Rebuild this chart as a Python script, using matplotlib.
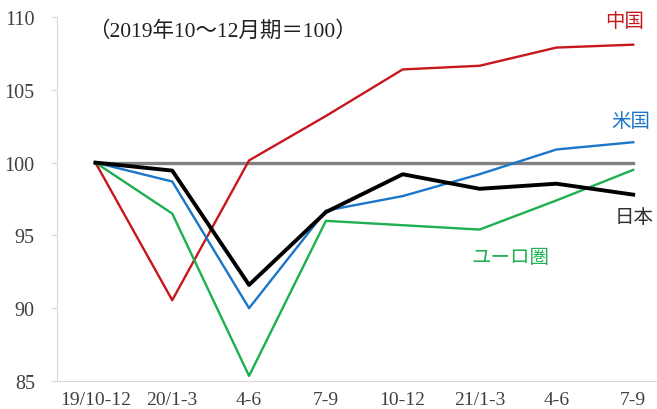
"""Real GDP index by region, 2019 Q4 = 100."""

import matplotlib

matplotlib.use("Agg")
import matplotlib.pyplot as plt

plt.rcParams["font.family"] = ["Liberation Serif", "Noto Sans CJK JP", "DejaVu Sans"]

quarters = ["19/10-12", "20/1-3", "4-6", "7-9", "10-12", "21/1-3", "4-6", "7-9"]
japan = [100.0, 99.45, 91.6, 96.6, 99.2, 98.2, 98.55, 97.8]
us = [100.0, 98.7, 90.0, 96.7, 97.7, 99.2, 100.9, 101.4]
euro = [100.0, 96.5, 85.35, 96.0, 95.7, 95.4, 97.4, 99.5]
china = [100.0, 90.55, 100.15, 103.2, 106.4, 106.65, 107.9, 108.1]
baseline = [100.0] * len(quarters)

C_CHINA = "#C8161D"
C_US = "#1B75C9"
C_EURO = "#1DAF50"
C_JAPAN = "#000000"
C_BASE = "#808080"

fig = plt.figure(figsize=(6.57, 4.10), dpi=100)
ax = fig.add_axes([57 / 657, 1 - 382 / 410, 1 - 57 / 657, (382 - 18) / 410])

x = list(range(len(quarters)))
ax.plot(x, baseline, color=C_BASE, lw=2.4, zorder=2)
ax.plot(x, china, color=C_CHINA, lw=1.7, zorder=3)
ax.plot(x, us, color=C_US, lw=1.7, zorder=3)
ax.plot(x, euro, color=C_EURO, lw=1.7, zorder=3)
ax.plot(x, japan, color=C_JAPAN, lw=2.8, zorder=4)

ax.set_xlim(-0.5, 7.31)
ax.set_ylim(85, 110)
ax.set_yticks([85, 90, 95, 100, 105, 110])
ax.set_xticks(x)
ax.set_xticklabels(quarters)

for side in ("top", "right"):
    ax.spines[side].set_visible(False)
for side in ("left", "bottom"):
    ax.spines[side].set_color("#D9D9D9")
    ax.spines[side].set_linewidth(0.8)

ax.tick_params(axis="y", length=4, color="#D9D9D9", labelsize=14.5,
               labelcolor="#404040", pad=12)
ax.tick_params(axis="x", length=0, labelsize=14, labelcolor="#404040", pad=7)

ax.text(-0.1, 109.1, "（2019年10～12月期＝100）", fontsize=15.5, color="#202020",
        va="center", ha="left")

ax.text(6.63, 109.7, "中国", color=C_CHINA, fontsize=14, va="center", ha="left")
ax.text(6.72, 102.85, "米国", color=C_US, fontsize=14, va="center", ha="left")
ax.text(6.76, 96.25, "日本", color="#303030", fontsize=14, va="center", ha="left")
ax.text(4.9, 93.5, "ユーロ圏", color=C_EURO, fontsize=14, va="center", ha="left")

fig.savefig("out.png", dpi=100)
